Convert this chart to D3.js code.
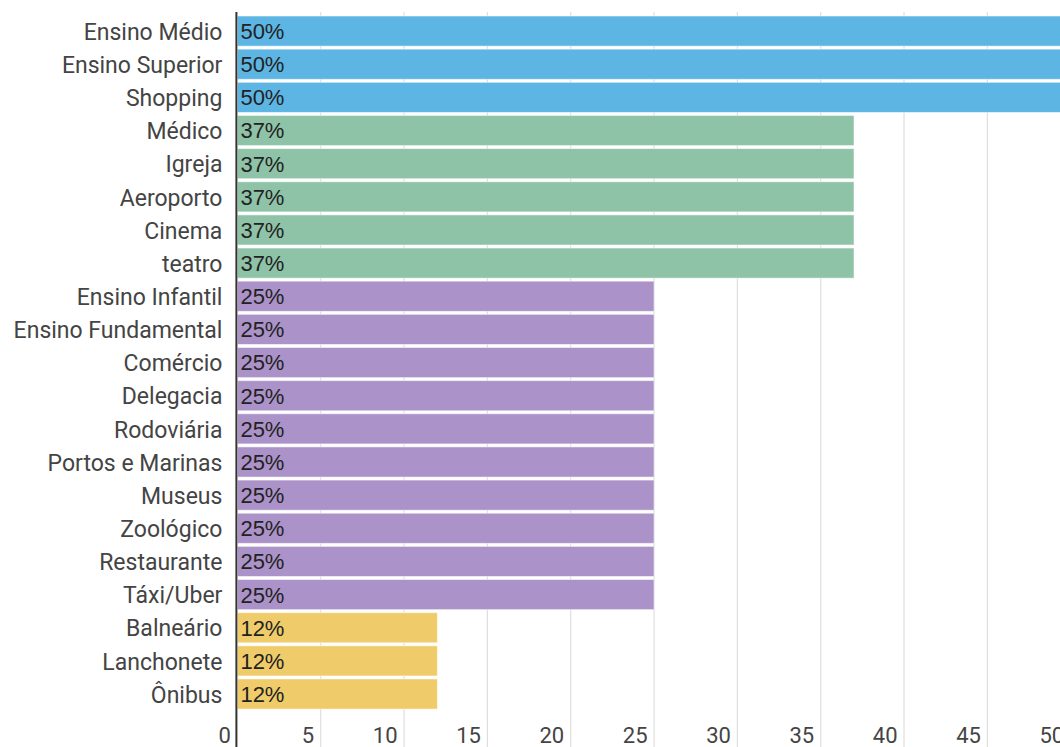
<!DOCTYPE html>
<html>
<head>
<meta charset="utf-8">
<script src="https://cdn.jsdelivr.net/npm/d3@7/dist/d3.min.js"></script>
<style>
  html, body { margin: 0; padding: 0; background: #fff; overflow: hidden; }
  svg { display: block; font-family: Roboto, "Noto Sans", sans-serif; }
</style>
</head>
<body>
<svg id="chart" width="1060" height="747"></svg>
<script>
// Locais e percentuais
const categories = [
  "Ensino Médio", "Ensino Superior", "Shopping",
  "Médico", "Igreja", "Aeroporto", "Cinema", "teatro",
  "Ensino Infantil", "Ensino Fundamental", "Comércio", "Delegacia",
  "Rodoviária", "Portos e Marinas", "Museus", "Zoológico",
  "Restaurante", "Táxi/Uber",
  "Balneário", "Lanchonete", "Ônibus"
];
const values = [
  50, 50, 50,
  37, 37, 37, 37, 37,
  25, 25, 25, 25, 25, 25, 25, 25, 25, 25,
  12, 12, 12
];
const xTicks = [0, 5, 10, 15, 20, 25, 30, 35, 40, 45, 50];

// Cor por faixa de valor
const colorByValue = d3.scaleOrdinal()
  .domain([50, 37, 25, 12])
  .range(["#5db5e4", "#8ec3a7", "#ab92c8", "#efcb6a"]);

const svg = d3.select("#chart");
const x0 = 237.4, x1 = 1070.7;
const x = d3.scaleLinear().domain([0, 50]).range([x0, x1]);
const y = d3.scaleBand().domain(categories).range([14.5, 710.6]).paddingInner(0.09).paddingOuter(0.045);

// Linhas de grade verticais
svg.append("g")
  .selectAll("line")
  .data(xTicks.filter(t => t > 0))
  .join("line")
  .attr("x1", d => x(d)).attr("x2", d => x(d))
  .attr("y1", 12).attr("y2", 747)
  .attr("stroke", "#dedede")
  .attr("stroke-width", 1.2);

// Barras
svg.append("g")
  .selectAll("rect")
  .data(categories)
  .join("rect")
  .attr("x", x(0))
  .attr("y", d => y(d))
  .attr("width", (d, i) => x(values[i]) - x(0))
  .attr("height", y.bandwidth())
  .attr("fill", (d, i) => colorByValue(values[i]))
  .attr("stroke", "rgba(255,255,255,0.55)")
  .attr("stroke-width", 1);

// Rótulos de valor dentro das barras
svg.append("g")
  .selectAll("text")
  .data(categories)
  .join("text")
  .attr("x", x(0) + 3)
  .attr("y", d => y(d) + y.bandwidth() / 2)
  .attr("dy", "0.36em")
  .attr("font-size", 22)
  .attr("font-family", "'Liberation Sans', Arial, sans-serif")
  .attr("fill", "#222")
  .text((d, i) => values[i] + "%");

// Eixo de categorias
const yAxis = svg.append("g")
  .attr("transform", `translate(${x0 - 15},0)`)
  .call(d3.axisLeft(y).tickSize(0).tickPadding(0));
yAxis.select(".domain").remove();
yAxis.selectAll("text")
  .attr("font-size", 23)
  .attr("font-family", "Roboto, sans-serif")
  .attr("fill", "#444")
  .attr("dy", "0.38em");

// Eixo de valores (rótulos sob a grade)
const xAxis = svg.append("g")
  .attr("transform", "translate(0,735)")
  .call(d3.axisBottom(x).tickValues(xTicks).tickSize(0).tickPadding(0));
xAxis.select(".domain").remove();
xAxis.selectAll("text")
  .attr("font-size", 22)
  .attr("font-family", "Roboto, sans-serif")
  .attr("fill", "#444")
  .attr("text-anchor", "end")
  .attr("dx", -7)
  .attr("dy", "0.36em");

// Linha do eixo zero
svg.append("line")
  .attr("x1", x(0) - 1).attr("x2", x(0) - 1)
  .attr("y1", 12).attr("y2", 747)
  .attr("stroke", "#333")
  .attr("stroke-width", 2);
</script>
</body>
</html>
